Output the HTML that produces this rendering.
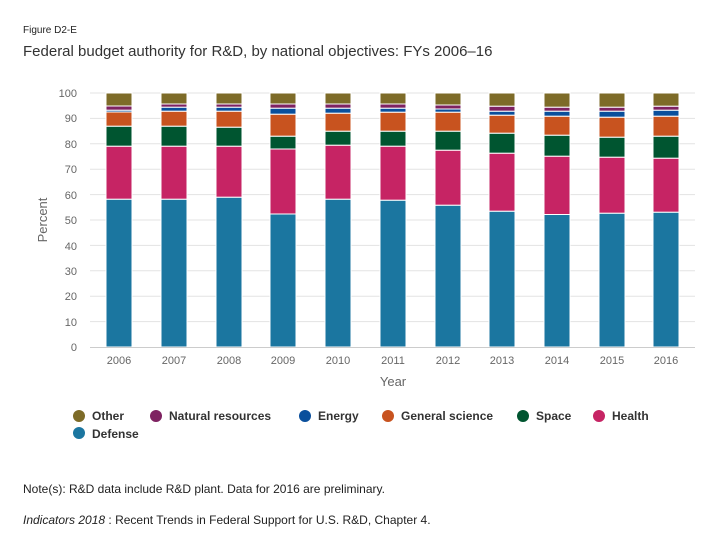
<!DOCTYPE html>
<html><head><meta charset="utf-8"><style>
body{margin:0;background:#fff;font-family:"Liberation Sans",sans-serif;}
svg text{font-family:"Liberation Sans",sans-serif;}
</style></head><body>
<svg id="s" width="724" height="551" xmlns="http://www.w3.org/2000/svg">
<rect width="724" height="551" fill="#fff"/>
<text x="23" y="33" font-size="10" fill="#222">Figure D2-E</text>
<text x="23" y="56" font-size="15" fill="#333">Federal budget authority for R&amp;D, by national objectives: FYs 2006–16</text>
<g id="grid" stroke="#e3e3e3" stroke-width="1"></g>
<g font-size="11" fill="#666" text-anchor="end">
<text x="77" y="351">0</text><text x="77" y="326">10</text><text x="77" y="300">20</text><text x="77" y="275">30</text><text x="77" y="250">40</text><text x="77" y="224">50</text><text x="77" y="199">60</text><text x="77" y="173">70</text><text x="77" y="148">80</text><text x="77" y="122">90</text><text x="77" y="97">100</text>
</g>
<g id="bars"></g>
<line x1="90" y1="347.5" x2="695" y2="347.5" stroke="#ccc"/>
<g font-size="11" fill="#666" text-anchor="middle">
<text x="119" y="364">2006</text><text x="174" y="364">2007</text><text x="229" y="364">2008</text><text x="283" y="364">2009</text><text x="338" y="364">2010</text><text x="393" y="364">2011</text><text x="448" y="364">2012</text><text x="502" y="364">2013</text><text x="557" y="364">2014</text><text x="612" y="364">2015</text><text x="666" y="364">2016</text>
</g>
<text x="393" y="386" font-size="13" fill="#666" text-anchor="middle">Year</text>
<text transform="translate(47,220) rotate(-90)" font-size="13" fill="#666" text-anchor="middle">Percent</text>
<g font-size="12" font-weight="bold" fill="#333">
<circle cx="79" cy="416" r="6" fill="#7d6b28"/><text x="92" y="420">Other</text>
<circle cx="156" cy="416" r="6" fill="#7e2261"/><text x="169" y="420">Natural resources</text>
<circle cx="305" cy="416" r="6" fill="#0a4f9c"/><text x="318" y="420">Energy</text>
<circle cx="388" cy="416" r="6" fill="#c8531f"/><text x="401" y="420">General science</text>
<circle cx="523" cy="416" r="6" fill="#005530"/><text x="536" y="420">Space</text>
<circle cx="599" cy="416" r="6" fill="#c62464"/><text x="612" y="420">Health</text>
<circle cx="79" cy="433" r="6" fill="#1b76a0"/><text x="92" y="438">Defense</text>
</g>
<text x="23" y="493" font-size="12" fill="#222">Note(s): R&amp;D data include R&amp;D plant. Data for 2016 are preliminary.</text>
<text x="23" y="524" font-size="12" fill="#222"><tspan font-style="italic">Indicators 2018</tspan> : Recent Trends in Federal Support for U.S. R&amp;D, Chapter 4.</text>
</svg>
<script>
var ns="http://www.w3.org/2000/svg";
var g=document.getElementById('grid');
for(var k=1;k<=10;k++){var y=347-25.4*k;var l=document.createElementNS(ns,'line');l.setAttribute('x1',90);l.setAttribute('x2',695);l.setAttribute('y1',y);l.setAttribute('y2',y);g.appendChild(l);}
var cx=[119,174,229,283,338,393,448,502,557,612,666];
// boundaries (pixel y) : other bottom, nat, energy, gensci, space, health(defense top)
var B=[[106,110.3,112,126.3,146.3,199.3],[104,107.3,111.3,126.3,146.3,199.3],[104,107.3,111.3,127.3,146.3,197.3],[104,108.3,114.3,136.3,149,214],[104,108.3,113.3,131.3,145.3,199.3],[104,108.3,112.3,131.3,146.3,200.3],[105,109,112.3,131.3,150.3,205.3],[106.3,111.3,115.3,133.3,153.3,211.3],[107.3,111.3,116.3,135.3,156.3,214.5],[107.3,111.3,117.3,137.3,157.3,213.3],[106.3,110.3,116.3,136.3,158.3,212.3]];
var C=['#7d6b28','#7e2261','#0a4f9c','#c8531f','#005530','#c62464','#1b76a0'];
var bg=document.getElementById('bars');
for(var i=0;i<11;i++){var e=[93].concat(B[i]).concat([347]);
for(var j=0;j<7;j++){var r=document.createElementNS(ns,'rect');r.setAttribute('x',cx[i]-13);r.setAttribute('width',26);r.setAttribute('y',e[j]);r.setAttribute('height',Math.max(0,e[j+1]-e[j]));r.setAttribute('fill',C[j]);r.setAttribute('stroke','#fff');r.setAttribute('stroke-width','1');bg.appendChild(r);}}
</script>
</body></html>
